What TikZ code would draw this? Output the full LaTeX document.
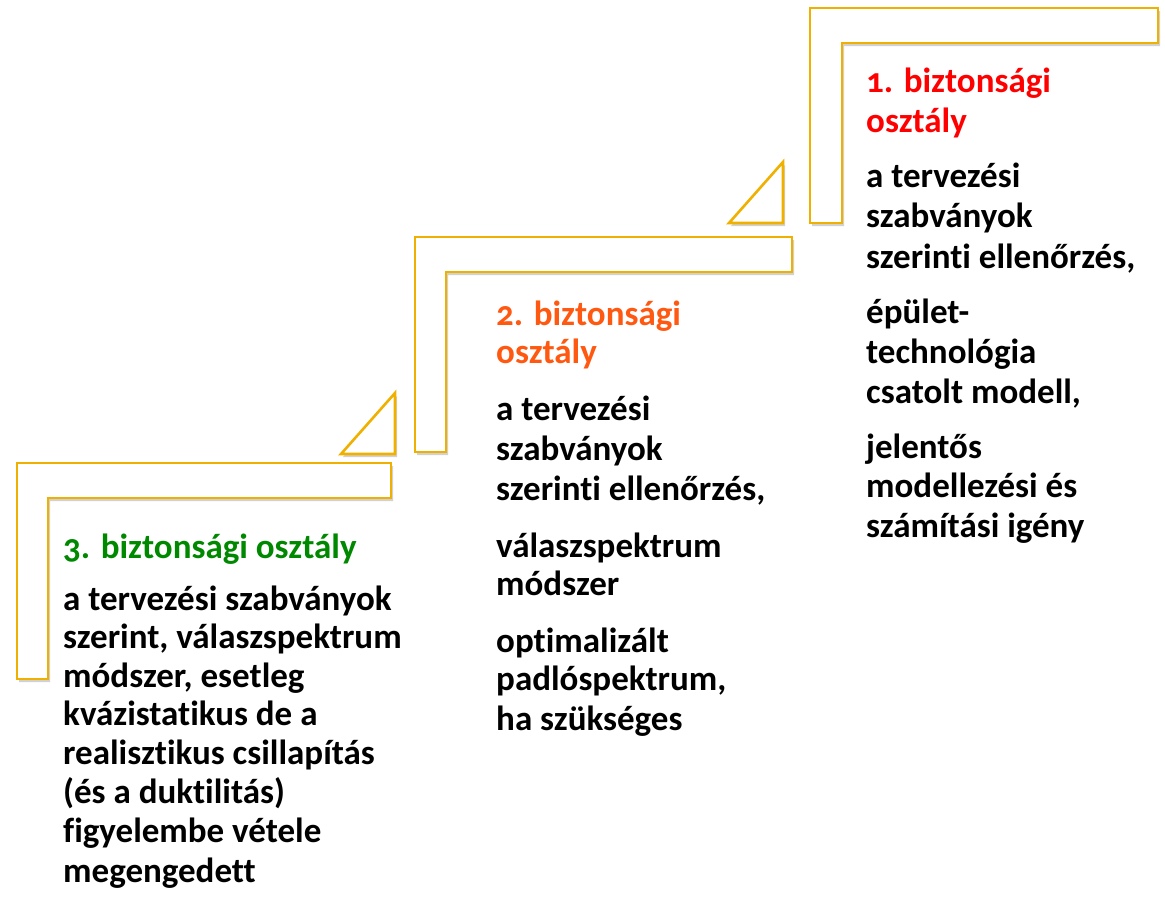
\documentclass[tikz,border=0pt]{standalone}
\usepackage{fontspec}
\setmainfont{Carlito}[Numbers=OldStyle, Ligatures=NoCommon]
\usetikzlibrary{shadows}
\definecolor{stepgold}{RGB}{240,176,0}
\definecolor{classone}{RGB}{255,0,0}
\definecolor{classtwo}{RGB}{255,88,16}
\definecolor{classthree}{RGB}{0,136,0}
\begin{document}
\begin{tikzpicture}[x=1pt,y=-1pt,
  stair/.style={draw=stepgold, line width=2.6pt, fill=white, line join=miter,
    drop shadow={shadow xshift=2pt, shadow yshift=-3pt, opacity=0.3, fill=black!60}},
  txt/.style={anchor=base west, inner sep=0pt, font=\bfseries\fontsize{35}{39}\selectfont},
  body/.style={txt, text=black},
  head/.style={txt, text=#1}]
\useasboundingbox (0,0) rectangle (1165,898);

% step 1 (top right)
\path[stair] (810,8) -- (1158,8) -- (1158,43) -- (842,43) -- (842,223) -- (810,223) -- cycle;
\path[stair] (783,162) -- (783,223) -- (729,223) -- cycle;
% step 2
\path[stair] (415,237) -- (792,237) -- (792,272) -- (446,272) -- (446,452) -- (415,452) -- cycle;
\path[stair] (395,393) -- (395,454) -- (341,454) -- cycle;
% step 3
\path[stair] (17,463) -- (391,463) -- (391,498) -- (48,498) -- (48,679) -- (17,679) -- cycle;

% class 1
\foreach \y/\t [count=\i] in {92/{1. biztonsági}, 132/{osztály}}
  \node[head=classone] (h1-\i) at (866,\y) {\t};
\foreach \y/\t [count=\i] in {187/{a tervezési}, 227/{szabványok}, 268/{szerinti ellenőrzés,},
    323/{épület-}, 363/{technológia}, 403/{csatolt modell,},
    458/{jelentős}, 497/{modellezési és}, 537/{számítási igény}}
  \node[body] (b1-\i) at (866,\y) {\t};

% class 2
\foreach \y/\t [count=\i] in {325/{2. biztonsági}, 363/{osztály}}
  \node[head=classtwo] (h2-\i) at (496,\y) {\t};
\foreach \y/\t [count=\i] in {420/{a tervezési}, 460/{szabványok}, 500/{szerinti ellenőrzés,},
    557/{válaszspektrum}, 595/{módszer},
    652/{optimalizált}, 690/{padlóspektrum,}, 730/{ha szükséges}}
  \node[body] (b2-\i) at (496,\y) {\t};

% class 3
\node[head=classthree] (h3-1) at (63,558) {3. biztonsági osztály};
\foreach \y/\t [count=\i] in {610/{a tervezési szabványok}, 648/{szerint, válaszspektrum},
    687/{módszer, esetleg}, 725/{kvázistatikus de a}, 764/{realisztikus csillapítás},
    803/{(és a duktilitás)}, 842/{figyelembe vétele}, 882/{megengedett}}
  \node[body] (b3-\i) at (63,\y) {\t};
\end{tikzpicture}
\end{document}
